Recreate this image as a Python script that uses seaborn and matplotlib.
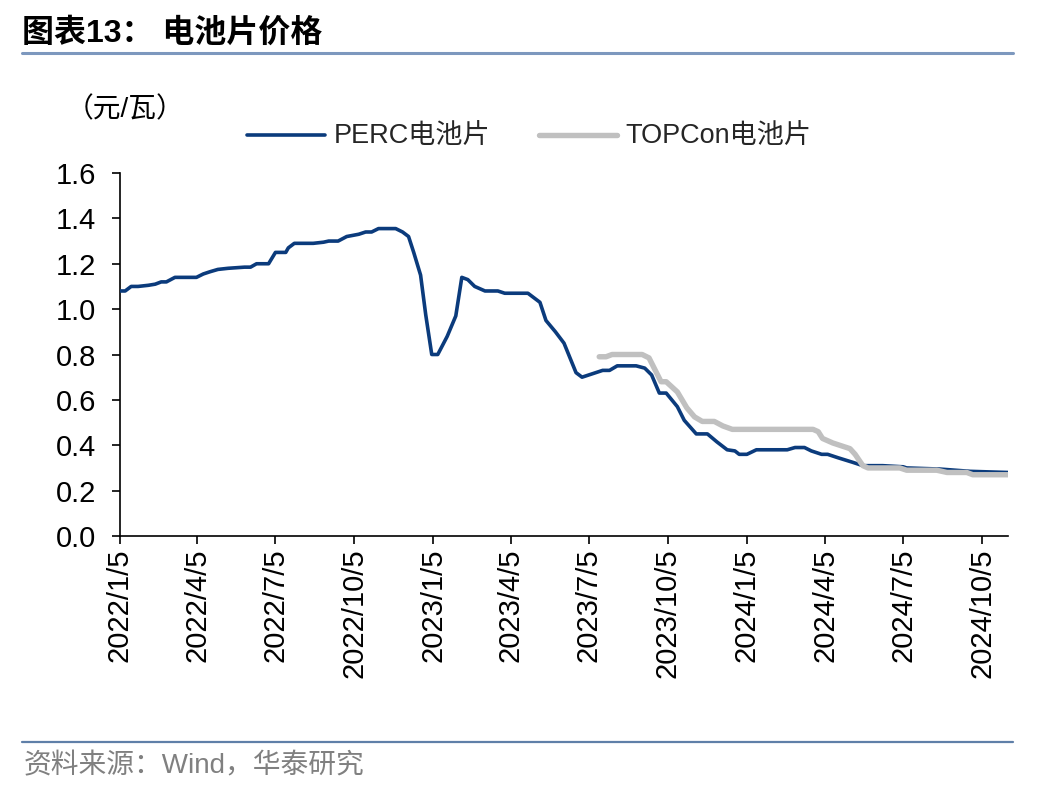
import matplotlib
matplotlib.use("Agg")
import matplotlib.pyplot as plt
import seaborn as sns
import pandas as pd

# ---------------- data ----------------
perc_dates = [
    "2022-01-05", "2022-01-11", "2022-01-18", "2022-01-26", "2022-02-07", "2022-02-15",
    "2022-02-22", "2022-02-28", "2022-03-10", "2022-04-04", "2022-04-12", "2022-04-20",
    "2022-04-29", "2022-05-11", "2022-05-30", "2022-06-06", "2022-06-13", "2022-06-27",
    "2022-07-05", "2022-07-17", "2022-07-20", "2022-07-27", "2022-08-18", "2022-08-30",
    "2022-09-05", "2022-09-16", "2022-09-26", "2022-10-10", "2022-10-18", "2022-10-25",
    "2022-11-02", "2022-11-22", "2022-11-30", "2022-12-07", "2022-12-13", "2022-12-21",
    "2022-12-27", "2023-01-03", "2023-01-10", "2023-01-21", "2023-01-31", "2023-02-07",
    "2023-02-14", "2023-02-22", "2023-03-06", "2023-03-21", "2023-03-29", "2023-04-25",
    "2023-05-09", "2023-05-16", "2023-05-27", "2023-06-06", "2023-06-20", "2023-06-27",
    "2023-07-09", "2023-07-21", "2023-07-29", "2023-08-07", "2023-08-29", "2023-09-08",
    "2023-09-16", "2023-09-25", "2023-10-03", "2023-10-16", "2023-10-24", "2023-11-07",
    "2023-11-20", "2023-12-01", "2023-12-13", "2023-12-22", "2023-12-27", "2024-01-05",
    "2024-01-16", "2024-02-21", "2024-03-01", "2024-03-12", "2024-03-20", "2024-04-01",
    "2024-04-08", "2024-04-20", "2024-05-07", "2024-05-19", "2024-06-11", "2024-07-05",
    "2024-07-09", "2024-08-17", "2024-09-21", "2024-11-04",
]
perc_values = [
    1.08, 1.08, 1.10, 1.10, 1.105, 1.11,
    1.12, 1.12, 1.14, 1.14, 1.155, 1.165,
    1.175, 1.18, 1.185, 1.185, 1.20, 1.20,
    1.25, 1.25, 1.27, 1.29, 1.29, 1.295,
    1.30, 1.30, 1.32, 1.33, 1.34, 1.34,
    1.355, 1.355, 1.34, 1.32, 1.25, 1.15,
    0.975, 0.80, 0.80, 0.88, 0.97, 1.14,
    1.13, 1.10, 1.08, 1.08, 1.07, 1.07,
    1.03, 0.95, 0.90, 0.85, 0.72, 0.70,
    0.715, 0.73, 0.73, 0.75, 0.75, 0.74,
    0.71, 0.63, 0.63, 0.57, 0.51, 0.45,
    0.45, 0.415, 0.38, 0.375, 0.36, 0.36,
    0.38, 0.38, 0.39, 0.39, 0.375, 0.36,
    0.36, 0.345, 0.325, 0.31, 0.31, 0.305,
    0.30, 0.295, 0.285, 0.28,
]

topcon_dates = [
    "2023-07-17", "2023-07-25", "2023-08-01", "2023-09-05", "2023-09-13", "2023-09-27",
    "2023-10-03", "2023-10-16", "2023-10-27", "2023-11-05", "2023-11-14", "2023-11-28",
    "2023-12-08", "2023-12-19", "2024-03-22", "2024-03-28", "2024-04-02", "2024-04-14",
    "2024-05-04", "2024-05-10", "2024-05-19", "2024-05-25", "2024-07-01", "2024-07-09",
    "2024-08-13", "2024-08-25", "2024-09-17", "2024-09-24", "2024-11-04",
]
topcon_values = [
    0.79, 0.79, 0.80, 0.80, 0.785, 0.68,
    0.68, 0.635, 0.565, 0.525, 0.505, 0.505,
    0.485, 0.47, 0.47, 0.46, 0.43, 0.41,
    0.385, 0.36, 0.31, 0.30, 0.30, 0.29,
    0.29, 0.28, 0.28, 0.27, 0.27,
]

tick_labels = ["2022/1/5", "2022/4/5", "2022/7/5", "2022/10/5", "2023/1/5", "2023/4/5",
               "2023/7/5", "2023/10/5", "2024/1/5", "2024/4/5", "2024/7/5", "2024/10/5"]
y_ticks = [0.0, 0.2, 0.4, 0.6, 0.8, 1.0, 1.2, 1.4, 1.6]

series_names = ["PERC电池片", "TOPCon电池片"]
colors = ["#0B3B7C", "#C0C0C0"]

# ---------------- style ----------------
sns.set_theme(style="white")
plt.rcParams['font.family'] = ['Liberation Sans', 'Noto Sans CJK SC', 'DejaVu Sans']
plt.rcParams['axes.unicode_minus'] = False

df_perc = pd.DataFrame({"date": pd.to_datetime(perc_dates), "value": perc_values})
df_top = pd.DataFrame({"date": pd.to_datetime(topcon_dates), "value": topcon_values})

fig = plt.figure(figsize=(10.48, 7.92), dpi=100)
ax = fig.add_axes([120 / 1048, 1 - 536 / 792, (1008 - 120) / 1048, (536 - 173) / 792])

sns.lineplot(data=df_perc, x="date", y="value", ax=ax, color=colors[0], linewidth=2.6,
             label=series_names[0], zorder=3)
sns.lineplot(data=df_top, x="date", y="value", ax=ax, color=colors[1], linewidth=3.9,
             label=series_names[1], zorder=4)

ax.set_xlim(pd.Timestamp(perc_dates[0]), pd.Timestamp(perc_dates[-1]))
ax.set_ylim(0, 1.6)
ax.set_yticks(y_ticks)
ax.set_yticklabels([f"{v:.1f}" for v in y_ticks], fontsize=21)
ax.set_xticks(pd.to_datetime(tick_labels, format="%Y/%m/%d"))
ax.set_xticklabels(tick_labels, rotation=90, fontsize=21)
ax.set_xlabel("")
ax.set_ylabel("")

for s in ["top", "right"]:
    ax.spines[s].set_visible(False)
for s in ["left", "bottom"]:
    ax.spines[s].set_color("black")
    ax.spines[s].set_linewidth(1.2)
ax.tick_params(axis="both", direction="out", length=6, width=1.2, color="black",
               left=True, bottom=True, labelcolor="black")
ax.tick_params(axis="y", pad=11)
ax.tick_params(axis="x", pad=3)
ax.grid(False)

ax.get_legend().remove()
handles, labels = ax.get_legend_handles_labels()
fig.legend(handles, labels, loc="center", bbox_to_anchor=(0.505, 0.827), ncol=2,
           frameon=False, fontsize=19.5, handlelength=2.9, handletextpad=0.3,
           columnspacing=1.8)

# title, unit, source
fig.text(22 / 1048, 1 - 33 / 792, "图表13： 电池片价格", fontsize=23, fontweight="bold",
         ha="left", va="center", color="black")
fig.add_artist(plt.Line2D([22 / 1048, 1013 / 1048], [1 - 53 / 792, 1 - 53 / 792],
                          color="#7D98BE", linewidth=2.2))
fig.text(66 / 1048, 1 - 110 / 792, "（元/瓦）", fontsize=20, ha="left", va="center",
         color="black")
fig.add_artist(plt.Line2D([22 / 1048, 1013 / 1048], [1 - 742 / 792, 1 - 742 / 792],
                          color="#5F7FA8", linewidth=1.6))
fig.text(24 / 1048, 1 - 766 / 792, "资料来源：Wind，华泰研究", fontsize=20, ha="left",
         va="center", color="#808080")

fig.savefig("out.png", dpi=100)
